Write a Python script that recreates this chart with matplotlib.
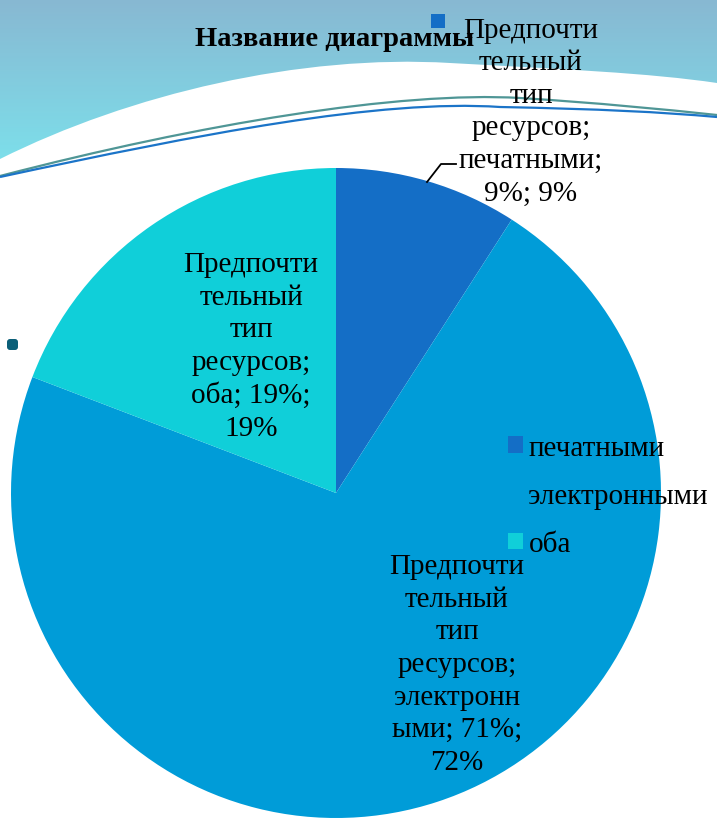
import numpy as np
import matplotlib
matplotlib.use('Agg')
import matplotlib.pyplot as plt
from matplotlib.path import Path
from matplotlib.patches import PathPatch, FancyBboxPatch

# data
title = 'Название диаграммы'
series_name = 'Предпочти\nтельный\nтип\nресурсов;'
categories = ['печатными', 'электронными', 'оба']
values = [9, 71, 19]          # value shown in label, %
percents = [9, 72, 19]        # percentage shown in label
colors = ['#146EC6', '#009CD8', '#10CFD9']

W, H = 717, 820
fig = plt.figure(figsize=(W / 100, H / 100), dpi=100)
ax = fig.add_axes([0, 0, 1, 1])


def Y(y):
    # pixel row (from top) -> data y
    return H - y


# background gradient at the top
t = np.linspace(0, 1, 200)[:, None, None]
top = np.array([136, 184, 210]) / 255
bot = np.array([122, 232, 240]) / 255
grad = top + (bot - top) * t
grad = np.repeat(grad, 2, axis=1)
ax.imshow(grad, extent=[0, W, Y(200), Y(0)], aspect='auto', zorder=0)

# white wave area
verts = [(0, Y(160)), (130, Y(95)), (300, Y(55)), (450, Y(64)),
         (560, Y(70)), (650, Y(74)), (W, Y(84)),
         (W, 0), (0, 0), (0, Y(160))]
codes = [Path.MOVETO, Path.CURVE4, Path.CURVE4, Path.CURVE4,
         Path.CURVE4, Path.CURVE4, Path.CURVE4,
         Path.LINETO, Path.LINETO, Path.CLOSEPOLY]
ax.add_patch(PathPatch(Path(verts, codes), facecolor='white', edgecolor='none', zorder=1))

# decorative lines
line_a = [(0, Y(177)), (200, Y(125)), (400, Y(92)), (520, Y(99)),
          (600, Y(104)), (660, Y(110)), (W, Y(116))]
line_b = [(0, Y(178)), (200, Y(135)), (380, Y(100)), (500, Y(108)),
          (600, Y(110)), (660, Y(113)), (W, Y(118))]
c4 = [Path.MOVETO] + [Path.CURVE4] * 6
ax.add_patch(PathPatch(Path(line_a, c4), facecolor='none', edgecolor='#4F9696', lw=1.6, zorder=2))
ax.add_patch(PathPatch(Path(line_b, c4), facecolor='none', edgecolor='#1B74C8', lw=1.6, zorder=2))

# pie
cx, cy, r = 336, 494, 325
wedges, _ = ax.pie(values, colors=colors, startangle=90, counterclock=False,
                   center=(cx, Y(cy)), radius=r,
                   wedgeprops=dict(linewidth=0, zorder=3))
ax.set_xlim(0, W)
ax.set_ylim(0, H)
ax.axis('off')

font = 'Liberation Serif'
fs = 21

# data labels
lbl_pos = [(531, 112), (457, 665), (251, 347)]
lbl_text = [
    series_name + '\nпечатными;\n%d%%; %d%%' % (values[0], percents[0]),
    series_name + '\nэлектронн\nыми; %d%%;\n%d%%' % (values[1], percents[1]),
    series_name + '\nоба; %d%%;\n%d%%' % (values[2], percents[2]),
]
for (x, y), s in zip(lbl_pos, lbl_text):
    ax.text(x, Y(y), s, ha='center', va='center', fontsize=fs, family=font,
            linespacing=1.33, zorder=5)

# leader line for the small slice
ax.plot([427, 441, 456], [Y(183), Y(165), Y(165)], color='black', lw=1.3, zorder=5)
ax.plot([438], [Y(22)], marker='s', markersize=10, color=colors[0], mew=0, zorder=5)

# stray marker on the left
ax.add_patch(FancyBboxPatch((7, Y(351)), 11, 11, boxstyle='round,pad=0,rounding_size=3',
                            facecolor='#0B5F78', edgecolor='none', zorder=5))

# title
ax.text(335, Y(39), title, ha='center', va='center', fontsize=20.5,
        fontweight='bold', family=font, zorder=5)

# legend
leg = ax.legend(wedges, categories, loc='upper left', bbox_to_anchor=(508, Y(436)),
                bbox_transform=ax.transData, frameon=False, prop=dict(family=font, size=fs),
                handlelength=0.5, handleheight=0.5, handletextpad=0.2,
                labelspacing=0.76, borderpad=0, borderaxespad=0)
for h in leg.legend_handles:
    h.set_edgecolor('none')
leg.set_zorder(6)

fig.savefig('out.png', dpi=100)
